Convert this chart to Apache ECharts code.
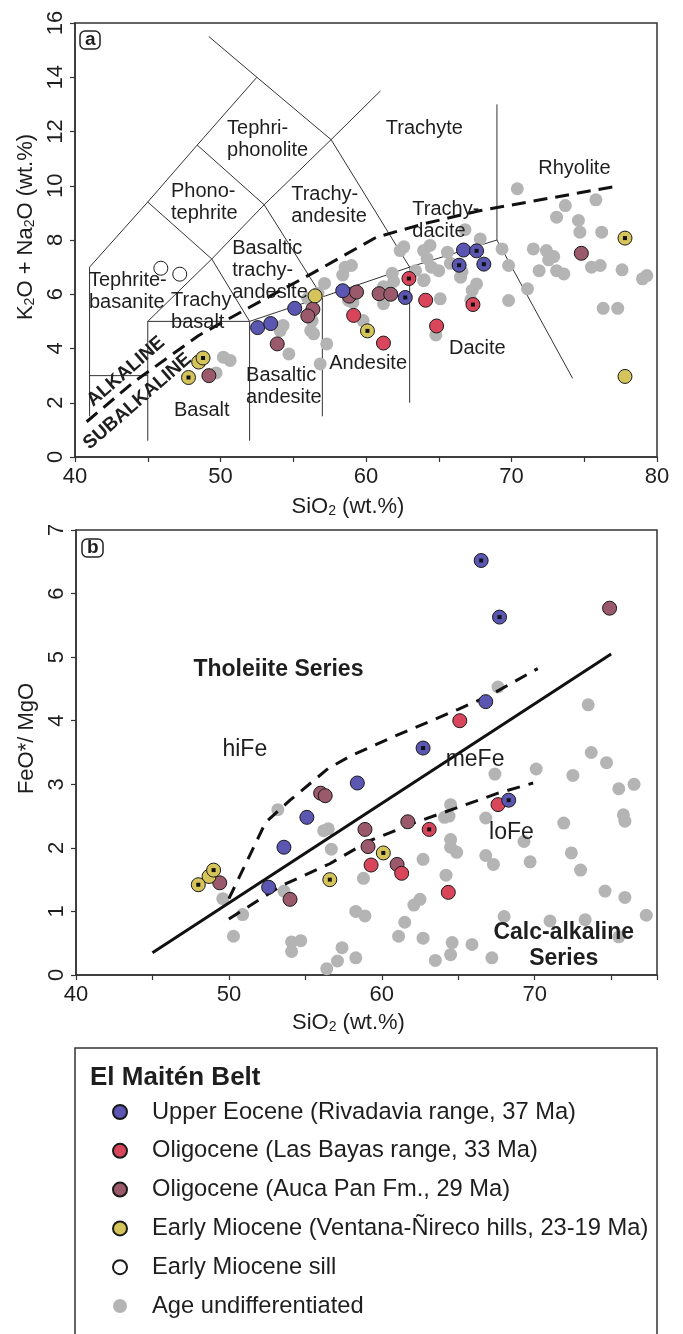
<!DOCTYPE html>
<html>
<head>
<meta charset="utf-8">
<title>El Maitén Belt - TAS and FeO*/MgO</title>
<script src="https://cdn.jsdelivr.net/npm/echarts/dist/echarts.min.js"></script>
<style>
  html, body { margin: 0; background: #fff; }
  #main { width: 683px; height: 1334px; }
</style>
</head>
<body>
<div id="main"></div>
<script>
// group names (legend order)
const groupNames = [
  'Upper Eocene (Rivadavia range, 37 Ma)',
  'Oligocene (Las Bayas range, 33 Ma)',
  'Oligocene (Auca Pan Fm., 29 Ma)',
  'Early Miocene (Ventana-Ñireco hills, 23-19 Ma)',
  'Early Miocene sill',
  'Age undifferentiated'
];

// ---- panel a: TAS  [SiO2, Na2O+K2O, centre dot]
const eoceneTAS = [[66.7, 7.63, 0], [67.6, 7.6, 1], [66.4, 7.07, 1], [68.1, 7.11, 1], [58.4, 6.13, 0], [62.7, 5.88, 1], [55.1, 5.48, 0], [52.55, 4.77, 0], [53.45, 4.92, 0]];
const bayasTAS = [[62.95, 6.58, 1], [64.1, 5.78, 0], [67.35, 5.62, 1], [59.15, 5.22, 0], [64.85, 4.83, 0], [61.2, 4.2, 0]];
const aucaPanTAS = [[74.8, 7.51], [58.85, 5.93], [59.35, 6.08], [60.9, 6.02], [61.7, 6.0], [56.35, 5.45], [56.0, 5.2], [53.9, 4.17], [49.2, 3.0]];
const mioceneTAS = [[77.8, 8.07, 1], [56.5, 5.94, 0], [60.1, 4.65, 1], [48.5, 3.5, 0], [48.8, 3.65, 1], [47.8, 2.93, 1], [77.8, 2.97, 0]];
const sillTAS = [[45.9, 6.96], [47.2, 6.74]];
const undiffTAS = [
  [70.4, 9.89], [73.7, 9.27], [75.8, 9.48], [73.1, 8.84], [74.6, 8.72], [74.7, 8.29], [76.2, 8.29], [67.85, 8.04], [66.8, 8.38],
  [62.35, 7.61], [63.96, 7.61], [64.4, 7.8], [64.2, 7.31], [65.6, 7.55], [69.35, 7.67], [71.5, 7.67], [72.4, 7.61], [72.9, 7.39],
  [72.55, 7.27], [71.9, 6.87], [73.1, 6.87], [73.6, 6.75], [69.8, 7.06], [71.1, 6.2], [75.5, 7.0], [76.1, 7.06], [77.6, 6.9],
  [79.0, 6.57], [79.3, 6.69], [69.8, 5.77], [64.5, 7.0], [65.0, 6.87], [66.5, 6.63], [67.6, 6.38], [63.96, 6.5], [63.4, 6.87],
  [65.1, 5.83], [67.3, 6.14], [76.3, 5.48], [77.3, 5.48], [62.6, 7.75], [58.57, 7.0], [59.0, 7.06], [58.4, 6.71], [57.15, 6.4],
  [56.7, 6.04], [56.0, 5.85], [58.8, 5.77], [59.1, 5.7], [61.2, 5.65], [59.8, 5.03], [56.3, 5.03], [56.2, 4.66], [56.4, 4.54],
  [54.3, 4.85], [54.1, 4.66], [54.7, 3.8], [57.3, 4.17], [56.85, 3.43], [50.2, 3.68], [50.66, 3.56], [49.7, 3.1], [61.8, 6.77],
  [61.9, 6.47], [61.2, 6.28], [64.8, 4.5], [66.6, 6.83], [65.8, 7.14], [67.2, 5.79], [64.0, 6.53]
];

// TAS field boundaries (Le Bas et al.)
const tasLines = [
  [[41, 1.5], [41, 7], [45, 9.4], [48.4, 11.5], [52.5, 14]],
  [[49.2, 15.5], [52.5, 14], [57.6, 11.7], [63, 7]],
  [[45, 5], [49.4, 7.3], [53, 9.3], [57.6, 11.7], [61, 13.5]],
  [[45, 9.4], [49.4, 7.3], [52, 5]],
  [[48.4, 11.5], [53, 9.3], [57, 5.9]],
  [[41, 3], [45, 3]],
  [[45, 0.6], [45, 5], [52, 5], [57, 5.9], [63, 7], [69, 8]],
  [[52, 0.6], [52, 5]],
  [[57, 1.5], [57, 5.9]],
  [[63, 2], [63, 7]],
  [[69, 13], [69, 8], [74.2, 2.9]]
];
// alkaline / subalkaline divide
const alkalineDivide = [[40.8, 1.3], [44.0, 2.75], [48.5, 4.48], [52.0, 5.52], [56.3, 6.77], [60.7, 8.1], [64.0, 8.6], [67.8, 9.08], [77.4, 10.0]];

const tasFieldLabels = [
  ['Tephri-\nphonolite', 50.45, 11.71], ['Phono-\ntephrite', 46.6, 9.37], ['Trachy-\nandesite', 54.86, 9.28],
  ['Trachy-\ndacite', 63.18, 8.71], ['Basaltic\ntrachy-\nandesite', 50.8, 6.89], ['Tephrite-\nbasanite', 40.96, 6.11],
  ['Trachy\nbasalt', 46.6, 5.37], ['Basaltic\nandesite', 51.76, 2.6], ['Trachyte', 61.36, 12.1], ['Rhyolite', 71.84, 10.63],
  ['Andesite', 57.47, 3.43], ['Dacite', 65.7, 3.99], ['Basalt', 46.8, 1.71]
];
const seriesLabelsTAS = [['ALKALINE', 43.5, 3.15], ['SUBALKALINE', 44.3, 2.05]];

// ---- panel b: FeO*/MgO vs SiO2
const eoceneFM = [[66.5, 6.52, 1], [67.7, 5.63, 1], [66.8, 4.3, 0], [62.7, 3.57, 1], [58.4, 3.02, 0], [55.1, 2.48, 0], [53.6, 2.01, 0], [52.6, 1.38, 0], [68.3, 2.75, 1]];
const bayasFM = [[65.1, 4.0, 0], [67.6, 2.68, 0], [63.1, 2.29, 1], [59.3, 1.73, 0], [61.3, 1.6, 0], [64.35, 1.3, 0]];
const aucaPanFM = [[74.9, 5.77], [56.0, 2.86], [56.3, 2.82], [58.9, 2.29], [59.1, 2.02], [61.7, 2.41], [61.0, 1.74], [49.4, 1.45], [54.0, 1.19]];
const mioceneFM = [[48.7, 1.55, 0], [48.0, 1.42, 1], [49.0, 1.65, 1], [56.6, 1.5, 1], [60.1, 1.92, 1]];
const undiffFM = [
  [67.6, 4.53], [73.5, 4.25], [73.7, 3.5], [74.7, 3.34], [67.4, 3.16], [70.1, 3.24], [72.5, 3.14], [75.5, 2.93], [76.5, 3.0],
  [75.8, 2.52], [75.9, 2.42], [71.9, 2.39], [72.4, 1.92], [73.0, 1.65], [69.7, 1.78], [69.3, 2.1], [66.8, 2.47], [66.8, 1.88],
  [67.3, 1.74], [64.5, 2.68], [64.1, 2.48], [64.4, 2.5], [64.5, 2.13], [64.5, 2.01], [64.9, 1.93], [62.7, 1.82], [64.2, 1.57],
  [74.6, 1.32], [75.9, 1.22], [68.0, 0.92], [71.0, 0.85], [73.3, 0.87], [77.3, 0.94], [75.5, 0.6], [65.9, 0.48], [64.6, 0.51],
  [64.5, 0.32], [63.5, 0.23], [67.2, 0.27], [62.7, 0.58], [61.1, 0.61], [61.5, 0.83], [62.1, 1.1], [62.5, 1.19], [58.9, 0.93],
  [58.3, 1.0], [58.8, 1.52], [56.7, 1.98], [56.5, 2.3], [56.2, 2.27], [53.2, 2.6], [53.6, 1.32], [49.6, 1.2], [50.9, 0.95],
  [50.3, 0.61], [54.1, 0.52], [54.7, 0.54], [54.1, 0.37], [57.4, 0.43], [58.3, 0.27], [57.1, 0.22], [56.4, 0.1]
];
const tholeiiteDivide = [[45, 0.35], [75, 5.05]];
const hiFeDivide = [[50.0, 1.2], [50.7, 1.55], [52.4, 2.4], [54.0, 2.75], [56.5, 3.25], [58.0, 3.45], [60.5, 3.72], [65.0, 4.18], [67.0, 4.39], [70.2, 4.82]];
const loFeDivide = [[50.0, 0.88], [53.4, 1.4], [56.6, 1.75], [59.1, 2.1], [62.2, 2.4], [64.8, 2.62], [67.6, 2.86], [69.9, 3.02]];
const fmFieldLabels = [['hiFe', 51.04, 3.54], ['meFe', 66.1, 3.38], ['loFe', 68.48, 2.24]];
const fmSeriesLabels = [['Tholeiite Series', 53.24, 4.8], ['Calc-alkaline\nSeries', 71.9, 0.46]];

const FONT = '"Liberation Sans", Arial, sans-serif';
const INK = '#1e1e1e';

const colors = {
  eocene: '#5a56b2', bayas: '#d9465c', aucaPan: '#9b5a6b',
  miocene: '#d5c45a', sill: '#ffffff', undiff: '#b4b4b4'
};

function pts(arr) { return arr.map(p => [p[0], p[1]]); }
function dotted(arr) { return arr.filter(p => p[2]).map(p => [p[0], p[1]]); }

function group(name, color, data, ax, bordered) {
  const out = [{
    name: name, type: 'scatter', xAxisIndex: ax, yAxisIndex: ax,
    data: pts(data), symbolSize: bordered ? 14 : 13, z: bordered ? 5 : 3,
    itemStyle: { color: color, borderColor: bordered ? '#1a1a1a' : color, borderWidth: bordered ? 1 : 0, opacity: 1 }
  }];
  const d = dotted(data);
  if (d.length) {
    out.push({
      name: name + ' (dot)', type: 'scatter', xAxisIndex: ax, yAxisIndex: ax,
      data: d, symbol: 'rect', symbolSize: 4, z: 6, silent: true,
      itemStyle: { color: '#111', opacity: 1 }
    });
  }
  return out;
}

function lines(list, ax, style, z) {
  return list.map(l => ({
    type: 'line', xAxisIndex: ax, yAxisIndex: ax, data: l, symbol: 'none',
    silent: true, z: z, lineStyle: style
  }));
}

function textMarks(list, ax, label) {
  return {
    type: 'scatter', xAxisIndex: ax, yAxisIndex: ax, silent: true, z: 7,
    symbolSize: 1, itemStyle: { color: 'rgba(0,0,0,0)', opacity: 1 },
    data: list.map(t => ({ name: t[0], value: [t[1], t[2]] })),
    label: Object.assign({ show: true, formatter: '{b}', position: 'inside', color: INK, fontFamily: FONT, opacity: 1 }, label)
  };
}

function xAxis(ax, max) {
  return {
    type: 'value', gridIndex: ax, min: 40, max: max, interval: 5,
    name: '{n|SiO}{s|2}{n| (wt.%)}', nameLocation: 'middle', nameGap: ax === 0 ? 39 : 37,
    nameTextStyle: {
      padding: [0, 36, 0, 0],
      rich: { n: { fontSize: 22, color: INK, fontFamily: FONT }, s: { fontSize: 14, color: INK, fontFamily: FONT, verticalAlign: 'bottom' } }
    },
    axisLine: { lineStyle: { color: '#333', width: 1.5 } },
    axisTick: { length: 5, lineStyle: { color: '#333', width: 1.2 } },
    axisLabel: { margin: 9, fontSize: 22, color: INK, fontFamily: FONT, formatter: v => (v % 10 === 0 ? v : '') },
    splitLine: { show: false }
  };
}

function yAxis(ax, max, interval, name, pad) {
  return {
    type: 'value', gridIndex: ax, min: 0, max: max, interval: interval,
    name: name, nameLocation: 'middle', nameGap: 31,
    nameTextStyle: {
      padding: [0, 0, 0, pad],
      rich: { n: { fontSize: 22, color: INK, fontFamily: FONT }, s: { fontSize: 14, color: INK, fontFamily: FONT, verticalAlign: 'bottom' } }
    },
    axisLine: { lineStyle: { color: '#333', width: 1.5 } },
    axisTick: { length: 5, lineStyle: { color: '#333', width: 1.2 } },
    axisLabel: { margin: 8, rotate: 90, fontSize: 22, color: INK, fontFamily: FONT },
    splitLine: { show: false }
  };
}

const thin = { color: '#333', width: 1 };
const dashA = { color: '#111', width: 3, type: [14, 8] };
const dashB = { color: '#111', width: 3, type: [13, 9] };

const series = [].concat(
  lines(tasLines, 0, thin, 2),
  group(groupNames[5], colors.undiff, undiffTAS, 0, false),
  lines([alkalineDivide], 0, dashA, 4),
  group(groupNames[4], colors.sill, sillTAS, 0, true),
  group(groupNames[2], colors.aucaPan, aucaPanTAS, 0, true),
  group(groupNames[1], colors.bayas, bayasTAS, 0, true),
  group(groupNames[3], colors.miocene, mioceneTAS, 0, true),
  group(groupNames[0], colors.eocene, eoceneTAS, 0, true),
  [textMarks(tasFieldLabels, 0, { align: 'left', verticalAlign: 'middle', fontSize: 20, lineHeight: 22 })],
  [textMarks(seriesLabelsTAS, 0, { align: 'center', verticalAlign: 'middle', fontSize: 19, fontWeight: 'bold', rotate: 41 })],

  group(groupNames[5], colors.undiff, undiffFM, 1, false),
  lines([tholeiiteDivide], 1, { color: '#111', width: 3 }, 4),
  lines([hiFeDivide, loFeDivide], 1, dashB, 4),
  group(groupNames[2], colors.aucaPan, aucaPanFM, 1, true),
  group(groupNames[1], colors.bayas, bayasFM, 1, true),
  group(groupNames[3], colors.miocene, mioceneFM, 1, true),
  group(groupNames[0], colors.eocene, eoceneFM, 1, true),
  [textMarks(fmFieldLabels, 1, { align: 'center', verticalAlign: 'middle', fontSize: 23 })],
  [textMarks(fmSeriesLabels, 1, { align: 'center', verticalAlign: 'middle', fontSize: 23, fontWeight: 'bold', lineHeight: 26 })]
);

const chart = echarts.init(document.getElementById('main'));
chart.setOption({
  animation: false,
  backgroundColor: '#fff',
  textStyle: { fontFamily: FONT },
  title: [
    { text: 'a', left: 80, top: 31, padding: [0, 5], borderColor: '#222', borderWidth: 1.5, borderRadius: 5,
      textStyle: { fontSize: 19, fontWeight: 'bold', color: INK, lineHeight: 18, fontFamily: FONT } },
    { text: 'b', left: 82, top: 539, padding: [0, 5], borderColor: '#222', borderWidth: 1.5, borderRadius: 5,
      textStyle: { fontSize: 19, fontWeight: 'bold', color: INK, lineHeight: 18, fontFamily: FONT } },
    { text: 'El Maitén Belt', left: 85, top: 1060,
      textStyle: { fontSize: 26, fontWeight: 'bold', color: INK, fontFamily: FONT } }
  ],
  grid: [
    { left: 75, top: 23, width: 582, height: 434, show: true, borderColor: '#333', borderWidth: 1.5 },
    { left: 76, top: 530, width: 581, height: 445, show: true, borderColor: '#333', borderWidth: 1.5 }
  ],
  xAxis: [xAxis(0, 80), xAxis(1, 78)],
  yAxis: [
    yAxis(0, 16, 2, '{n|K}{s|2}{n|O + Na}{s|2}{n|O (wt.%)}', 26),
    yAxis(1, 7, 1, '{n|FeO*/ MgO}', 28)
  ],
  legend: {
    data: groupNames, orient: 'vertical', left: 107, top: 1095, selectedMode: false,
    icon: 'circle', itemWidth: 14, itemHeight: 14, itemGap: 14.8,
    textStyle: { fontSize: 23.7, color: INK, fontFamily: FONT, lineHeight: 24, padding: [0, 0, 0, 20] }
  },
  graphic: [{
    type: 'rect', silent: true, z: -1,
    shape: { x: 75, y: 1048, width: 582, height: 300 },
    style: { fill: 'none', stroke: '#333', lineWidth: 1.5 }
  }],
  series: series
});
</script>
</body>
</html>
